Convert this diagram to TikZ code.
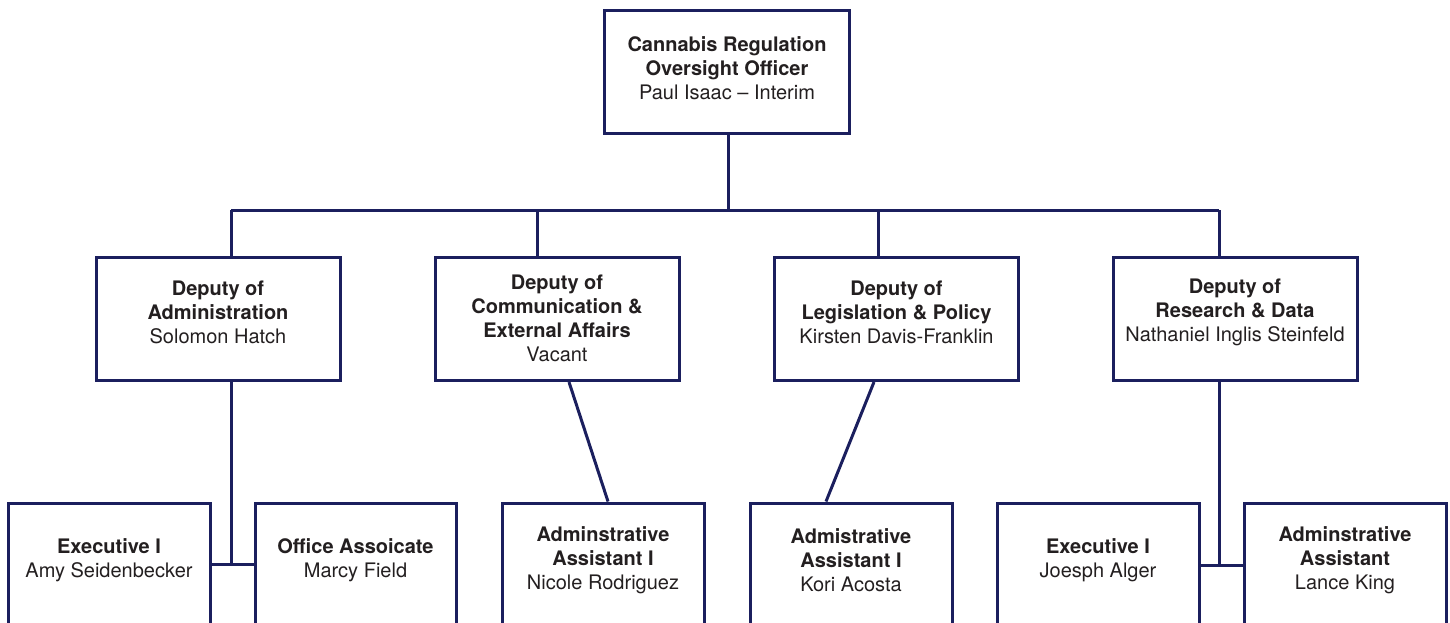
\documentclass[tikz,border=0pt]{standalone}
\usepackage{fontspec}
\setmainfont{TeX Gyre Heros}
\usetikzlibrary{positioning}
\definecolor{orgnavy}{HTML}{1B1F5E}
\definecolor{orgtext}{HTML}{231F20}

\begin{document}
\begin{tikzpicture}[x=1pt, y=-1pt,
    post/.style={rectangle, draw=orgnavy, line width=3pt, minimum height=123pt, inner sep=0pt},
    posttext/.style={align=center, text=orgtext, font=\fontsize{20}{24}\selectfont},
    link/.style={draw=orgnavy, line width=3pt}]
  \useasboundingbox (0,0) rectangle (1450,623);
  \clip (0,0) rectangle (1450,623);

  % top
  \node [post, minimum width=245pt] (ceo) at (727,72) {};
  \node [posttext] (ceotxt) at ([yshift=4pt]ceo.center) {\textbf{Cannabis Regulation}\\\textbf{Oversight Officer}\\Paul Isaac -- Interim};

  % deputies
  \node [post, minimum width=244pt] (dadm) at (218,319) {};
  \node [posttext] (dadmtxt) at ([yshift=7pt]dadm.center) {\textbf{Deputy of}\\\textbf{Administration}\\Solomon Hatch};

  \node [post, minimum width=244pt] (dcom) at (557,319) {};
  \node [posttext] (dcomtxt) at ([yshift=1pt]dcom.center) {\textbf{Deputy of}\\\textbf{Communication \&}\\\textbf{External Affairs}\\Vacant};

  \node [post, minimum width=244pt] (dleg) at (896.5,319) {};
  \node [posttext] (dlegtxt) at ([yshift=7pt]dleg.center) {\textbf{Deputy of}\\\textbf{Legislation \& Policy}\\Kirsten Davis-Franklin};

  \node [post, minimum width=244pt] (dres) at (1235,319) {};
  \node [posttext] (drestxt) at ([yshift=7pt]dres.center) {\textbf{Deputy of}\\\textbf{Research \& Data}\\Nathaniel Inglis Steinfeld};

  % staff
  \node [post, minimum width=202pt, minimum height=124pt] (exa) at (109,565) {};
  \node [posttext] (exatxt) at ([yshift=5pt]exa.center) {\textbf{Executive I}\\Amy Seidenbecker};

  \node [post, minimum width=201pt, minimum height=124pt] (offa) at (355.5,565) {};
  \node [posttext] (offatxt) at ([yshift=5pt]offa.center) {\textbf{Office Assoicate}\\Marcy Field};

  \node [post, minimum width=202pt, minimum height=124pt] (asta) at (603,565) {};
  \node [posttext] (astatxt) at ([yshift=5pt]asta.center) {\textbf{Adminstrative}\\\textbf{Assistant I}\\Nicole Rodriguez};

  \node [post, minimum width=202pt, minimum height=124pt] (astb) at (851,565) {};
  \node [posttext] (astbtxt) at ([yshift=5pt]astb.center) {\textbf{Admistrative}\\\textbf{Assistant I}\\Kori Acosta};

  \node [post, minimum width=202pt, minimum height=124pt] (exb) at (1098,565) {};
  \node [posttext] (exbtxt) at ([yshift=5pt]exb.center) {\textbf{Executive I}\\Joesph Alger};

  \node [post, minimum width=202pt, minimum height=124pt] (astc) at (1345,565) {};
  \node [posttext] (astctxt) at ([yshift=5pt]astc.center) {\textbf{Adminstrative}\\\textbf{Assistant}\\Lance King};

  \coordinate (hub) at (728,210);
  \coordinate (bara) at (231,210);
  \coordinate (barb) at (537,210);
  \coordinate (barc) at (878,210);
  \coordinate (bard) at (1219,210);
  \coordinate (joina) at (231,564);
  \coordinate (joinb) at (1219,565);

  \draw [link] (ceo.south -| hub) -- (hub);
  \draw [link] (bara) -- (bard);
  \draw [link] (bara) -- (bara |- dadm.north);
  \draw [link] (barb) -- (barb |- dcom.north);
  \draw [link] (barc) -- (barc |- dleg.north);
  \draw [link] (bard) -- (bard |- dres.north);

  \draw [link] (bara |- dadm.south) -- (joina);
  \draw [link] (exa.east |- joina) -- (offa.west |- joina);
  \draw [link] ([xshift=12pt]dcom.south) -- ([xshift=5pt]asta.north);
  \draw [link] ([xshift=-22.5pt]dleg.south) -- ([xshift=-25pt]astb.north);
  \draw [link] (joinb |- dres.south) -- (joinb);
  \draw [link] (exb.east |- joinb) -- (astc.west |- joinb);
\end{tikzpicture}
\end{document}
